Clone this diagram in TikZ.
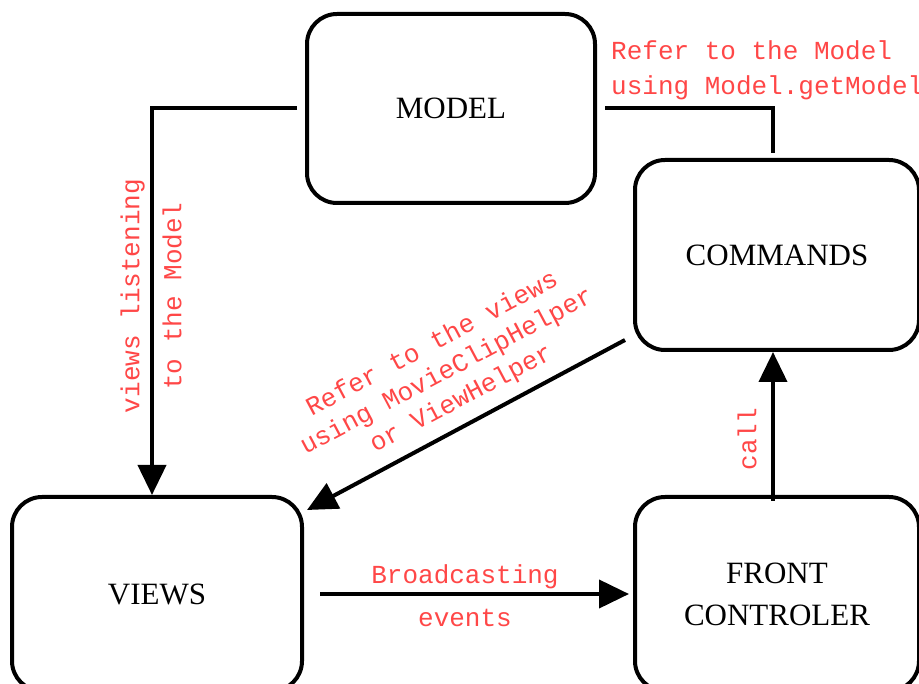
\documentclass[tikz,border=0pt]{standalone}
\usepackage{fontspec}
\setmainfont{Liberation Serif}
\setmonofont{Liberation Mono}
\usetikzlibrary{arrows.meta}
\usetikzlibrary{positioning}

\begin{document}
\begin{tikzpicture}[x=1pt, y=-1pt,
	block/.style={draw=black, line width=4pt, rounded corners=30pt, fill=white,
		minimum width=#1, minimum height=190pt, inner sep=0pt, align=center,
		font=\fontsize{31}{42}\selectfont},
	block/.default=284pt,
	flow/.style={draw=black, line width=4pt, -{Triangle[length=30pt,width=28pt]}},
	note/.style={text=red!72, inner sep=0pt, font=\ttfamily\fontsize{26}{36}\selectfont}]

	%canvas, same size as the original picture
	\useasboundingbox (0,0) rectangle (919,684);

	%the four parts of the framework
	\node[block=288pt, minimum height=189pt] (model) at (451,108.5) {MODEL};
	\node[block] (commands) at (777,255) {COMMANDS};
	\node[block=290pt, minimum height=194pt] (views) at (157,594) {VIEWS};
	\node[block, minimum height=194pt] (front) at (777,594) {FRONT\\CONTROLER};

	%connectors
	\draw[flow] ([xshift=-8pt]model.west) -| ([xshift=-5pt]views.north);
	\draw[line width=4pt] ([xshift=8pt]model.east) -| ([xshift=-4pt, yshift=5pt]commands.north);
	\draw[flow] ([shift={(-8,-12)}]commands.south west) -- ([shift={(3,15)}]views.north east);
	\draw[flow] ([xshift=16pt]views.east) -- ([xshift=-4pt]front.west);
	\draw[flow] ([xshift=-4pt, yshift=-6pt]front.north) -- ([xshift=-4pt]commands.south);

	%labels
	\node[note, anchor=west, align=left, font=\ttfamily\fontsize{26}{35}\selectfont] (modelRef) at (611,70) {Refer to the Model\\using Model.getModel};
	\node[note, rotate=90, align=center, font=\ttfamily\fontsize{26}{42}\selectfont] (listening) at (151,296) {views listening\\to the Model};
	\node[note, rotate=28, align=center, font=\ttfamily\fontsize{26}{31}\selectfont] (viewsRef) at (447,372) {Refer to the views\\using MovieClipHelper\\or ViewHelper};
	\node[note, align=center, font=\ttfamily\fontsize{26}{43}\selectfont] (broadcast) at (465,596) {Broadcasting\\events};
	\node[note, rotate=90] (call) at (747,439) {call};

\end{tikzpicture}
\end{document}
